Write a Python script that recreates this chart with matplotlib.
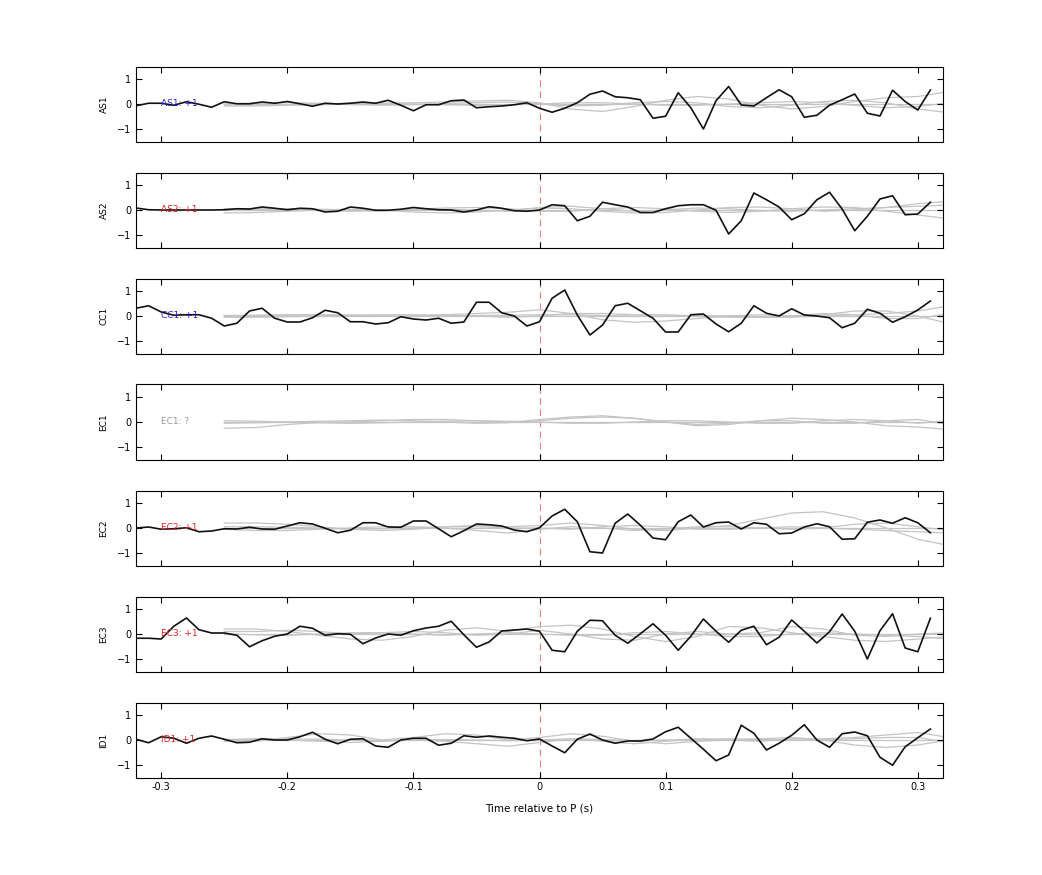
import numpy as np
import matplotlib
matplotlib.use("Agg")
import matplotlib.pyplot as plt

stations = ["AS1", "AS2", "CC1", "EC1", "EC2", "EC3", "ID1"]
polarity = ["+1", "+1", "+1", "?", "+1", "+1", "+1"]
label_colors = ["#2222cc", "#dd2222", "#2222cc", "#999999", "#dd2222", "#dd2222", "#dd2222"]

t_obs = np.round(np.arange(-0.32, 0.315, 0.01), 2)

obs = {
 "AS1": [-0.07,0.03,0.03,-0.05,0.09,-0.01,-0.13,0.09,0.01,0.01,0.08,0.03,0.10,0.01,-0.09,0.03,0.0,0.03,0.08,0.03,0.15,-0.05,-0.27,-0.03,-0.03,0.13,0.16,-0.15,-0.11,-0.08,-0.03,0.05,-0.17,
         -0.33,-0.17,0.05,0.39,0.52,0.29,0.25,0.17,-0.57,-0.49,0.45,-0.15,-1.0,0.13,0.7,-0.04,-0.08,0.25,0.57,0.29,-0.53,-0.45,-0.05,0.17,0.4,-0.37,-0.48,0.55,0.1,-0.24,0.56],
 "AS2": [0.08,0.01,0.0,0.0,0.0,0.0,0.0,0.01,0.05,0.04,0.12,0.07,0.01,0.07,0.05,-0.08,-0.05,0.12,0.07,-0.01,-0.01,0.03,0.1,0.05,0.01,0.0,-0.08,0.0,0.13,0.07,-0.03,-0.05,0.0,
         0.21,0.17,-0.43,-0.25,0.31,0.21,0.12,-0.1,-0.1,0.05,0.17,0.21,0.21,-0.01,-0.96,-0.43,0.68,0.41,0.12,-0.39,-0.15,0.41,0.71,0.04,-0.83,-0.25,0.44,0.57,-0.19,-0.16,0.31],
 "CC1": [0.31,0.41,0.16,0.03,0.05,0.05,-0.09,-0.4,-0.29,0.2,0.31,-0.09,-0.24,-0.24,-0.07,0.23,0.13,-0.23,-0.23,-0.32,-0.27,-0.03,-0.12,-0.16,-0.09,-0.29,-0.24,0.55,0.55,0.13,0.0,-0.4,-0.23,
         0.71,1.04,0.04,-0.76,-0.36,0.41,0.51,0.21,-0.09,-0.64,-0.64,0.05,0.08,-0.32,-0.63,-0.29,0.41,0.11,0.0,0.29,0.04,0.0,-0.07,-0.47,-0.29,0.27,0.11,-0.25,-0.03,0.24,0.6],
 "EC1": None,
 "EC2": [0.0,0.04,-0.05,-0.03,0.01,-0.15,-0.12,-0.03,-0.04,0.03,-0.04,-0.05,0.08,0.21,0.16,-0.01,-0.19,-0.09,0.21,0.21,0.04,0.03,0.28,0.28,-0.03,-0.35,-0.11,0.16,0.13,0.08,-0.08,-0.15,0.01,
         0.48,0.75,0.25,-0.95,-1.0,0.19,0.56,0.11,-0.4,-0.47,0.25,0.52,0.04,0.21,0.24,-0.04,0.21,0.15,-0.23,-0.2,0.04,0.17,0.05,-0.45,-0.43,0.23,0.32,0.19,0.41,0.21,-0.19],
 "EC3": [-0.17,-0.17,-0.2,0.31,0.64,0.17,0.04,0.04,-0.05,-0.51,-0.27,-0.09,0.0,0.31,0.23,-0.05,0.01,-0.01,-0.39,-0.16,0.0,-0.05,0.13,0.24,0.31,0.51,-0.03,-0.53,-0.32,0.12,0.16,0.2,0.11,
         -0.65,-0.71,0.11,0.55,0.53,-0.05,-0.37,0.01,0.41,-0.05,-0.65,-0.09,0.6,0.11,-0.33,0.15,0.31,-0.43,-0.13,0.56,0.11,-0.36,0.09,0.8,0.11,-1.0,0.13,0.81,-0.56,-0.71,0.63],
 "ID1": [0.03,-0.11,0.13,0.07,-0.13,0.07,0.16,0.03,-0.11,-0.09,0.05,0.0,0.0,0.13,0.31,0.03,-0.15,0.03,0.05,-0.24,-0.29,0.0,0.07,0.07,-0.21,-0.13,0.17,0.11,0.16,0.11,0.07,-0.03,0.04,
         -0.24,-0.51,0.03,0.24,0.0,-0.13,-0.04,-0.04,0.04,0.33,0.51,0.07,-0.37,-0.83,-0.6,0.59,0.27,-0.4,-0.13,0.19,0.61,0.0,-0.29,0.25,0.32,0.17,-0.69,-1.01,-0.27,0.09,0.44],
}

# synthetic (gray) traces, sampled every 0.025 s from -0.25 to 0.325
t_syn = np.round(np.arange(-0.25, 0.33, 0.025), 3)
syn = {
 "AS1": [[0.0,0.0,0.0,0.0,0.0,0.0,0.0,0.0,0.0,0.0,0.0,0.0,0.0,0.0,0.0,0.0,0.0,0.0,0.0,0.0,0.0,0.0,0.0,0.0],
         [-0.08,-0.08,-0.05,-0.03,0.0,0.03,0.05,0.08,0.12,0.15,0.05,-0.2,-0.3,-0.1,0.15,0.3,0.2,-0.05,-0.2,-0.1,0.1,0.25,0.3,0.5],
         [0.0,0.03,0.05,0.03,-0.02,-0.05,-0.03,0.02,0.05,0.08,0.0,-0.08,-0.05,0.05,0.1,0.05,-0.1,-0.15,-0.05,0.1,0.15,0.05,-0.2,-0.35],
         [-0.03,-0.05,-0.03,0.0,0.03,0.03,0.0,-0.03,-0.05,-0.03,0.0,0.05,0.05,0.0,-0.05,-0.05,0.0,0.05,0.1,0.05,-0.05,-0.15,-0.1,0.05]],
 "AS2": [[0.0]*24,
         [-0.12,-0.1,-0.05,0.0,0.03,0.0,-0.08,-0.12,-0.08,0.0,0.08,0.05,-0.05,-0.12,-0.1,0.0,0.1,0.12,0.05,-0.05,0.0,0.1,0.25,0.35],
         [0.05,0.05,0.03,0.0,-0.05,-0.03,0.03,0.08,0.1,0.05,-0.05,-0.05,0.05,0.1,0.05,-0.05,-0.1,-0.05,0.05,0.12,0.1,-0.05,-0.2,-0.35],
         [0.0,0.02,0.05,0.03,0.0,-0.03,0.0,0.03,0.0,-0.05,0.1,0.15,0.05,-0.05,0.0,0.08,0.05,-0.02,-0.05,0.0,0.05,0.1,0.15,0.2]],
 "CC1": [[0.0]*24,
         [0.0,0.02,0.05,0.05,0.03,0.0,0.0,0.05,0.1,0.15,0.25,0.1,-0.15,-0.25,-0.2,-0.1,0.0,0.05,0.0,0.05,0.2,0.2,0.0,-0.3],
         [-0.05,-0.05,-0.03,0.0,0.03,0.05,0.05,0.03,0.0,-0.05,0.0,0.1,0.1,0.05,0.05,0.0,-0.05,-0.05,0.0,0.1,0.05,-0.1,-0.1,0.1],
         [0.02,0.03,0.03,0.05,0.03,0.0,-0.02,0.0,0.02,0.03,0.05,0.05,0.02,0.0,0.0,0.02,0.0,-0.05,-0.05,0.0,0.05,0.1,0.2,0.4]],
 "EC1": [[0.0]*24,
         [-0.25,-0.22,-0.1,-0.02,0.0,0.05,0.1,0.1,0.05,0.0,0.05,0.15,0.2,0.15,0.0,-0.1,-0.05,0.05,0.05,-0.05,-0.05,0.05,0.1,-0.1],
         [-0.05,-0.03,0.0,0.03,0.05,0.08,0.05,0.0,-0.05,-0.03,0.1,0.2,0.25,0.15,0.0,-0.15,-0.1,0.05,0.15,0.1,0.0,-0.15,-0.2,-0.3],
         [0.05,0.03,0.0,-0.03,-0.05,-0.03,0.0,0.03,0.05,0.03,0.0,-0.05,-0.05,0.0,0.05,0.05,0.0,-0.05,-0.05,0.05,0.1,0.05,-0.05,0.05]],
 "EC2": [[0.0]*24,
         [0.2,0.2,0.15,0.05,-0.05,-0.1,-0.05,0.05,0.1,0.05,0.1,0.2,0.1,-0.05,-0.1,0.0,0.1,0.35,0.6,0.65,0.4,0.0,-0.45,-0.7],
         [-0.05,-0.1,-0.1,-0.05,0.0,0.05,0.05,0.0,-0.1,-0.2,-0.05,0.05,0.0,-0.1,-0.05,0.05,0.05,0.0,-0.05,0.0,0.15,0.2,0.05,-0.1],
         [0.05,0.05,0.03,0.0,-0.05,-0.03,0.0,0.05,0.05,0.0,0.0,-0.05,0.05,0.1,0.05,-0.05,-0.05,0.0,0.05,0.0,-0.05,-0.1,-0.15,-0.2]],
 "EC3": [[0.0]*24,
         [0.2,0.2,0.1,-0.05,-0.2,-0.25,-0.1,0.15,0.25,0.1,0.3,0.35,0.2,-0.1,-0.3,-0.1,0.3,0.25,0.05,-0.1,-0.25,-0.3,-0.2,-0.1],
         [0.1,0.1,0.15,0.1,0.0,0.05,0.1,0.05,-0.05,0.0,0.15,0.0,-0.2,-0.25,0.0,0.1,0.0,0.05,0.3,0.2,-0.05,-0.1,0.0,0.05],
         [0.0,-0.03,-0.05,0.0,0.05,0.05,0.0,-0.05,0.0,0.05,0.0,-0.05,-0.05,0.05,0.1,0.0,-0.1,-0.1,0.0,0.05,0.0,-0.05,-0.1,-0.2]],
 "ID1": [[0.0]*24,
         [-0.05,-0.05,0.1,0.25,0.2,0.0,0.1,0.25,0.2,0.0,0.1,0.25,0.15,-0.05,-0.15,-0.05,0.0,0.05,0.1,0.0,-0.2,-0.3,-0.2,0.0],
         [0.02,0.05,0.0,-0.05,-0.1,-0.05,0.0,-0.05,-0.15,-0.25,-0.1,0.05,-0.05,-0.15,-0.05,0.05,0.0,-0.05,0.05,0.05,0.1,0.2,0.3,0.1],
         [0.0,0.02,0.05,0.03,0.0,-0.02,0.0,0.02,0.0,-0.03,0.0,0.05,0.02,-0.02,0.0,0.03,0.05,0.02,0.0,0.0,0.05,0.1,0.1,-0.1]],
}

fig = plt.figure(figsize=(10.42, 8.75), dpi=100)
W, H = 1042, 875
left, right = 136 / W, 943 / W
for i, st in enumerate(stations):
    center = 104 + 106 * i
    top = center - 37.5
    ax = fig.add_axes([left, 1 - (top + 75) / H, right - left, 75 / H])
    for s in syn[st]:
        ax.plot(t_syn, s, color="#c4c4c4", lw=0.9, zorder=1)
    ax.axvline(0, color="#e88080", lw=0.8, ls=(0, (6, 4)), zorder=0)
    if obs[st] is not None:
        ax.plot(t_obs, obs[st], color="#111111", lw=1.2, zorder=3)
    ax.text(-0.3, 0, f"{st}: {polarity[i]}", color=label_colors[i], fontsize=6.5,
            va="center", ha="left", zorder=4)
    ax.set_xlim(-0.32, 0.32)
    ax.set_ylim(-1.5, 1.5)
    ax.set_yticks([-1, 0, 1])
    ax.set_xticks([-0.3, -0.2, -0.1, 0, 0.1, 0.2, 0.3])
    ax.tick_params(direction="in", top=True, right=True, labelsize=7, length=4, width=0.8)
    ax.set_xticklabels(["-0.3", "-0.2", "-0.1", "0", "0.1", "0.2", "0.3"])
    if i < len(stations) - 1:
        ax.tick_params(labelbottom=False)
    ax.set_ylabel(st, fontsize=6.5, labelpad=6)
    for sp in ax.spines.values():
        sp.set_linewidth(0.8)
    if i == len(stations) - 1:
        ax.set_xlabel("Time relative to P (s)", fontsize=7.5, labelpad=8)

fig.savefig("out.png", dpi=100)
